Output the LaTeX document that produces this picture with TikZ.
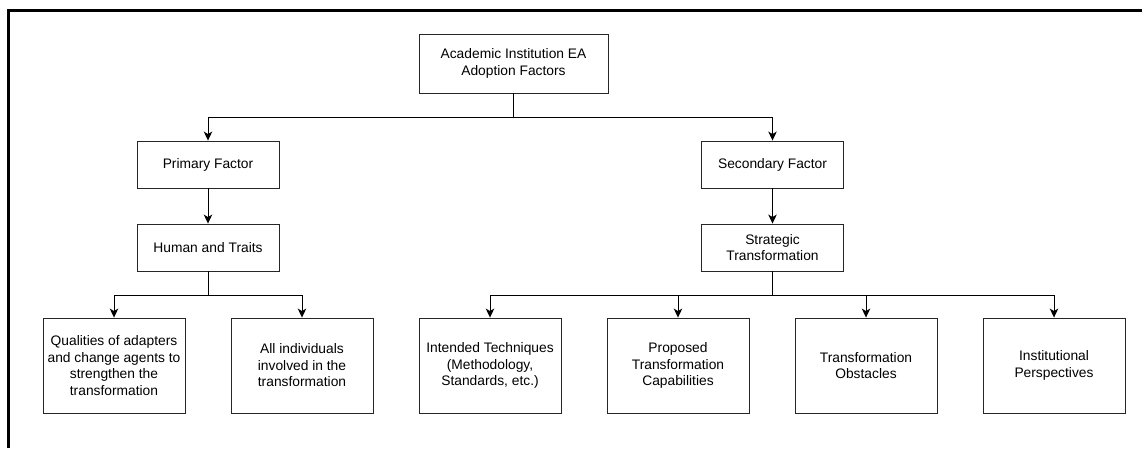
\documentclass[tikz,border=0pt]{standalone}
\usepackage{fontspec}
\setmainfont{Liberation Sans}
\usetikzlibrary{arrows.meta}
\begin{document}
\begin{tikzpicture}[x=1pt,y=-1pt,
  box/.style={draw=black!85, line width=0.9pt, minimum width=142pt, minimum height=47pt,
    align=center, inner sep=2pt, font=\fontsize{13.8}{16.5}\selectfont},
  tallbox/.style={box, minimum height=95pt},
  arr/.style={-{Stealth[length=9pt,width=8.5pt,inset=2.5pt]}, line width=1pt},
  frame/.style={line width=2.8pt, line join=miter}]
\useasboundingbox (0,0) rectangle (1142,448);
\draw[frame] (8.7,448) -- (8.7,10.7) -- (1142,10.7);

\node[box, minimum width=189pt, minimum height=59pt] (top) at (513.5,63.5) {Academic Institution EA\\Adoption Factors};
\node[box] (pf) at (208,164.5) {Primary Factor};
\node[box] (sf) at (772.5,164.5) {Secondary Factor};
\node[box] (ht) at (208,247.5) {Human and Traits};
\node[box] (st) at (772.5,247.5) {Strategic\\Transformation};
\node[tallbox] (q) at (114,365.5) {Qualities of adapters\\and change agents to\\strengthen the\\transformation};
\node[tallbox] (ai) at (302,365.5) {All individuals\\involved in the\\transformation};
\node[tallbox] (it) at (490,365.5) {Intended Techniques\\(Methodology,\\Standards, etc.)};
\node[tallbox] (pc) at (678,365.5) {Proposed\\Transformation\\Capabilities};
\node[tallbox] (ob) at (866,365.5) {Transformation\\Obstacles};
\node[tallbox] (ip) at (1054,365.5) {Institutional\\Perspectives};

\coordinate (j1) at (0,117);
\coordinate (j2) at (0,295);

\draw[arr] (top.south) -- (top.south |- j1) -| (pf.north);
\draw[arr] (top.south) -- (top.south |- j1) -| (sf.north);
\draw[arr] (pf) -- (ht);
\draw[arr] (sf) -- (st);
\draw[arr] (ht.south) -- (ht.south |- j2) -| (q.north);
\draw[arr] (ht.south) -- (ht.south |- j2) -| (ai.north);
\draw[arr] (st.south) -- (st.south |- j2) -| (it.north);
\draw[arr] (st.south) -- (st.south |- j2) -| (pc.north);
\draw[arr] (st.south) -- (st.south |- j2) -| (ob.north);
\draw[arr] (st.south) -- (st.south |- j2) -| (ip.north);
\end{tikzpicture}
\end{document}
